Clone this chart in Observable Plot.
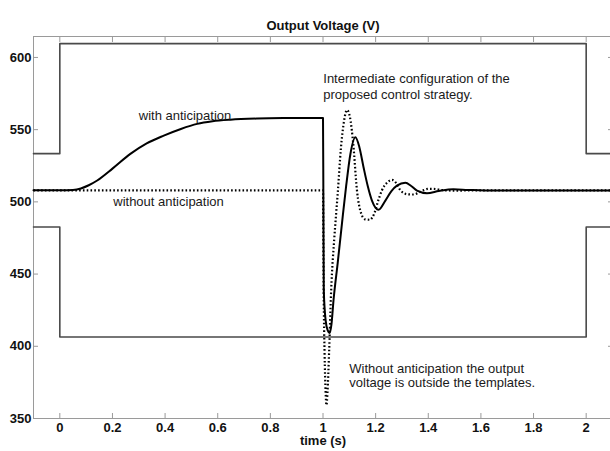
<!DOCTYPE html>
<html>
<head>
<meta charset="utf-8">
<script src="https://cdn.jsdelivr.net/npm/d3@7"></script>
<script src="https://cdn.jsdelivr.net/npm/@observablehq/plot@0.6"></script>
<style>
  html, body { margin: 0; padding: 0; background: #fff; }
</style>
</head>
<body>
<div id="chart"></div>
<script>
// ---- data ----
const xTicks = [0, 0.2, 0.4, 0.6, 0.8, 1, 1.2, 1.4, 1.6, 1.8, 2];
const yTicks = [350, 400, 450, 500, 550, 600];

// templates (nominal 508 V, ±5% and ±20%)
const upperT = [-0.1, 0, 0, 2, 2, 2.1];
const upperV = [533.4, 533.4, 609.6, 609.6, 533.4, 533.4];
const lowerT = [-0.1, 0, 0, 2, 2, 2.1];
const lowerV = [482.6, 482.6, 406.4, 406.4, 482.6, 482.6];

// with anticipation (solid)
const withT = [-0.1, 0, 0.05, 0.08, 0.11, 0.142, 0.2, 0.268, 0.33, 0.395, 0.46, 0.522, 0.58, 0.648, 0.75, 0.85, 1.0, 1.0015, 1.003, 1.01, 1.018, 1.025, 1.032, 1.04, 1.056, 1.072, 1.088, 1.104, 1.123, 1.138, 1.154, 1.17, 1.186, 1.211, 1.237, 1.26, 1.281, 1.313, 1.335, 1.357, 1.395, 1.44, 1.495, 1.55, 1.65, 2.1];
const withV = [508, 508, 508.3, 509.3, 511.5, 514.8, 523, 533.2, 540.5, 545.9, 550.5, 554, 555.8, 556.9, 557.7, 558, 558.1, 500, 438.7, 418, 411, 409.2, 415, 432, 458, 485, 511, 533, 544.7, 538, 524, 511, 500.9, 494.5, 500.9, 507.5, 511.3, 513.2, 511, 507.8, 506, 507.5, 508.7, 508.3, 507.8, 507.8];

// without anticipation (dotted)
const woT = [-0.1, 1.0, 1.0025, 1.006, 1.01, 1.013, 1.017, 1.023, 1.031, 1.043, 1.056, 1.068, 1.08, 1.091, 1.102, 1.115, 1.129, 1.145, 1.16, 1.177, 1.195, 1.21, 1.224, 1.245, 1.262, 1.28, 1.294, 1.32, 1.344, 1.365, 1.381, 1.4, 1.42, 1.45, 1.5, 1.6, 2.1];
const woV = [508, 508, 438.7, 395, 368, 359.2, 368, 395, 438.7, 475, 506, 537, 556, 563.6, 559, 540, 508, 492, 487.9, 487.6, 492, 501, 508, 513.5, 515.2, 512.5, 508, 505.3, 505.1, 506.5, 508, 509, 509, 508.2, 507.8, 508, 508];

const noteText = ["with anticipation", "without anticipation", "Intermediate configuration of the", "proposed control strategy.", "Without anticipation the output", "voltage is outside the templates."];
const noteT = [0.300, 0.203, 1.001, 1.001, 1.100, 1.100];
const noteV = [559.7, 499.8, 585.3, 574.2, 384.1, 374.6];

const zip = (ts, vs) => ts.map((t, i) => ({t, v: vs[i]}));
const notes = noteText.map((text, i) => ({text, t: noteT[i], v: noteV[i]}));

const font = "'Liberation Sans', Arial, Helvetica, sans-serif";
const gray = "#9a9a9a";

const chart = Plot.plot({
  width: 610,
  height: 451,
  marginTop: 36,
  marginBottom: 33,
  marginLeft: 33,
  marginRight: -2,
  style: {fontFamily: font, fontSize: "12px", color: "#111", background: "#fff", overflow: "visible"},
  x: {domain: [-0.1, 2.1]},
  y: {domain: [350, 614.5]},
  marks: [
    Plot.frame({stroke: gray, strokeWidth: 1}),
    Plot.axisX(xTicks, {anchor: "bottom", tickSize: -5, tickPadding: 9, stroke: gray, fill: "#111", fontWeight: "bold", fontSize: 13, tickFormat: d3.format("~g"), label: null}),
    Plot.axisX(xTicks, {anchor: "top", tickSize: -5, stroke: gray, tickFormat: () => "", label: null}),
    Plot.axisY(yTicks, {anchor: "left", tickSize: -5, tickPadding: 7, stroke: gray, fill: "#111", fontWeight: "bold", fontSize: 13, label: null}),
    Plot.axisY(yTicks, {anchor: "right", tickSize: -5, stroke: gray, tickFormat: () => "", label: null}),
    Plot.line(zip(upperT, upperV), {x: "t", y: "v", stroke: "#4a4a4a", strokeWidth: 1.6}),
    Plot.line(zip(lowerT, lowerV), {x: "t", y: "v", stroke: "#4a4a4a", strokeWidth: 1.6}),
    Plot.line(zip(woT, woV), {x: "t", y: "v", stroke: "#000", strokeWidth: 2.2, strokeDasharray: "1.6,2.2", strokeLinecap: "butt", curve: "monotone-x"}),
    Plot.line(zip(withT, withV), {x: "t", y: "v", stroke: "#000", strokeWidth: 2, curve: "monotone-x"}),
    Plot.text(notes, {x: "t", y: "v", text: "text", textAnchor: "start", lineAnchor: "middle", fill: "#1a1a1a", fontSize: 13}),
    Plot.text(["Output Voltage (V)"], {frameAnchor: "top", dy: -16, fontWeight: "bold", fontSize: 13, fill: "#111"}),
    Plot.text(["time (s)"], {frameAnchor: "bottom", dy: 26, fontWeight: "bold", fontSize: 13, fill: "#111"})
  ]
});
document.getElementById("chart").appendChild(chart);
</script>
</body>
</html>
